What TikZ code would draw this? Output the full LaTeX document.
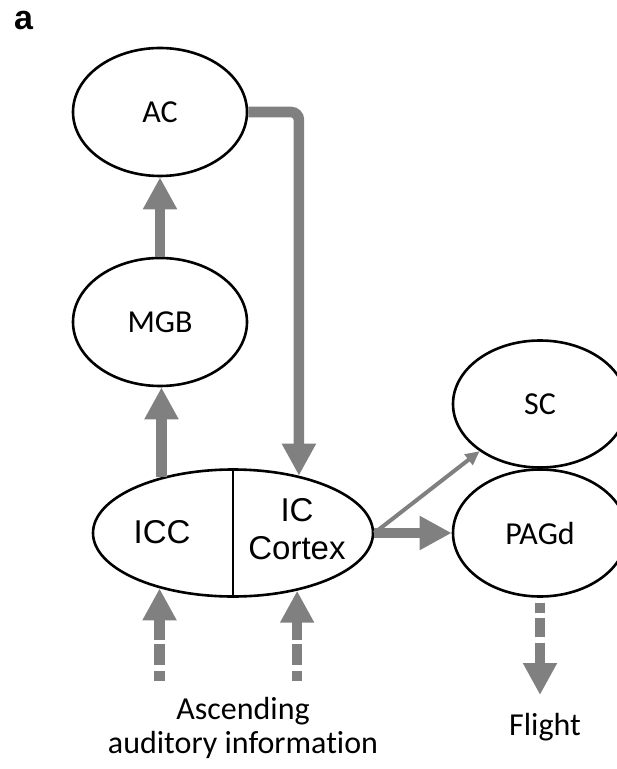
\documentclass[tikz,border=0pt]{standalone}
\usepackage{fontspec}
\setmainfont{Carlito}[Ligatures=NoCommon]
\newfontfamily\arialfont{Liberation Sans}
\usepackage{tikz}
\usetikzlibrary{arrows.meta}
\usetikzlibrary{shapes.geometric}
\definecolor{routegray}{RGB}{128,128,128}
\tikzstyle{area}=[ellipse, draw=black, line width=1.3pt, fill=white, inner sep=0pt, minimum width=87pt, minimum height=64pt, font=\fontsize{16}{19}\selectfont]
\tikzstyle{icpart}=[font=\arialfont\fontsize{16.5}{19}\selectfont, align=center, inner sep=0pt]
\tikzstyle{outlabel}=[font=\fontsize{16}{17}\selectfont, align=center, inner sep=0pt]
\tikzstyle{route}=[draw=routegray, line width=5.3pt, -{Triangle[width=16pt, length=16pt]}]
\tikzstyle{thinroute}=[draw=routegray, line width=2pt, -{Triangle[width=6.5pt, length=7pt]}]
\tikzstyle{inroute}=[route, dash pattern=on 5pt off 3pt on 10.5pt off 2pt on 40pt off 0pt]
\tikzstyle{outroute}=[route, line width=5pt, dash pattern=on 0pt off 2.5pt on 5pt off 2.5pt on 9.5pt off 3pt on 40pt off 0pt]

\begin{document}
\begin{tikzpicture}[x=.5pt, y=-.5pt]
    \useasboundingbox (0,0) rectangle (616,769);

    \node[font=\arialfont\bfseries\fontsize{17}{20}\selectfont] (panel) at (23.5,20.5) {a};

    \node[area] (ac) at (160,112) {AC};
    \node[area] (mgb) at (160,322) {MGB};
    \node[area, minimum width=140pt, minimum height=63.5pt] (ic) at (233,533) {};
    \node[area, minimum height=63.5pt] (sc) at (540,404) {SC};
    \node[area, minimum height=63.5pt] (pagd) at (540,533) {PAGd};

    \draw[line width=1.3pt] (ic.north) -- (ic.south);
    \node[icpart] (icc) at (162,532) {ICC};
    \node[icpart] (iccortex) at (297,529) {IC\\Cortex};

    \draw[route] (ic.142.4) -- (ic.142.4 |- mgb.south);
    \draw[route] (mgb.north) -- (ac.south);
    \draw[route, rounded corners=4pt] (ac.east) -| (ic.41.4);
    \draw[route] (ic.east) -- (pagd.west);
    \draw[thinroute] (ic.east) -- (sc.218);

    % ascending input
    \coordinate (inbase) at (0,681);
    \draw[inroute] (ic.217.6 |- inbase) -- (ic.217.6);
    \draw[inroute] (ic.318.6 |- inbase) -- (ic.318.6);

    \coordinate (flightend) at (540,695);
    \draw[outroute] (pagd.south) -- (flightend);

    \node[outlabel] (ascending) at (243,728) {Ascending\\auditory information};
    \node[outlabel] (flight) at (545,727) {Flight};
\end{tikzpicture}
\end{document}
